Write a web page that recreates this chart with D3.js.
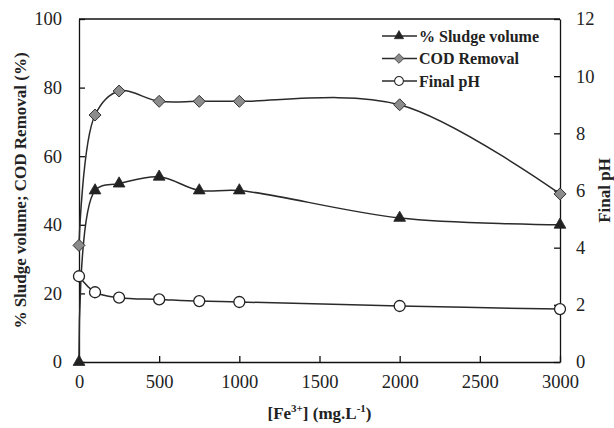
<!doctype html>
<html lang="en">
<head>
    <meta charset="utf-8">
    <title>Fe3+ dose</title>
    <script src="https://d3js.org/d3.v7.min.js"></script>
    <style>
        body { margin: 0; padding: 0; background: #fff; }
        svg text { font-family: 'Liberation Serif', 'Times New Roman', serif; }
        .tick text { font-size: 18.5px; fill: #222; }
    </style>
</head>
<body>
    <div class="chart"></div>
    <script>
        // data
        const doses = [0, 100, 250, 500, 750, 1000, 2000, 3000];
        const sludge = [0, 50, 52, 54, 50, 50, 42, 40];
        const cod = [34, 72, 79, 76, 76, 76, 75, 49];
        const ph = [3.0, 2.44, 2.25, 2.19, 2.13, 2.1, 1.96, 1.85];
        const xTicks = [0, 500, 1000, 1500, 2000, 2500, 3000];
        const leftTicks = [0, 20, 40, 60, 80, 100];
        const rightTicks = [0, 2, 4, 6, 8, 10, 12];
        const seriesNames = ["% Sludge volume", "COD Removal", "Final pH"];

        const width = 614, height = 428;
        const m = {left: 79, right: 54, top: 19, bottom: 66};
        const serif = "'Liberation Serif', 'Times New Roman', serif";

        const svg = d3.select(".chart").append("svg")
            .attr("width", width)
            .attr("height", height);

        const x = d3.scaleLinear().domain([0, 3000]).range([m.left, width - m.right]);
        const yL = d3.scaleLinear().domain([0, 100]).range([height - m.bottom, m.top]);
        const yR = d3.scaleLinear().domain([0, 12]).range([height - m.bottom, m.top]);

        // axes, ticks pointing inward
        const gx = svg.append("g")
            .attr("transform", `translate(0,${height - m.bottom})`)
            .call(d3.axisBottom(x).tickValues(xTicks).tickFormat(d3.format("d"))
                .tickSizeInner(-6).tickSizeOuter(0).tickPadding(13));
        const gl = svg.append("g")
            .attr("transform", `translate(${m.left},0)`)
            .call(d3.axisLeft(yL).tickValues(leftTicks).tickSizeInner(-6).tickSizeOuter(0).tickPadding(17));
        const gr = svg.append("g")
            .attr("transform", `translate(${width - m.right},0)`)
            .call(d3.axisRight(yR).tickValues(rightTicks).tickSizeInner(-6).tickSizeOuter(0).tickPadding(16));

        [gx, gl, gr].forEach(g => {
            g.attr("font-family", serif).attr("font-size", null);
            g.selectAll("text").style("font-family", serif);
            g.selectAll("path, line").attr("stroke", "#111").attr("stroke-width", 1.3);
        });

        // top border of the frame
        svg.append("line")
            .attr("x1", m.left).attr("x2", width - m.right)
            .attr("y1", m.top).attr("y2", m.top)
            .attr("stroke", "#111").attr("stroke-width", 1.3);

        // axis titles
        svg.append("text")
            .attr("x", (m.left + width - m.right) / 2)
            .attr("y", 419)
            .attr("text-anchor", "middle")
            .style("font-family", serif)
            .attr("font-size", 17).attr("font-weight", "bold").attr("fill", "#222")
            .html('[Fe<tspan dy="-7" font-size="11">3+</tspan><tspan dy="7">] (mg.L</tspan><tspan dy="-7" font-size="11">-1</tspan><tspan dy="7">)</tspan>');

        svg.append("text")
            .attr("transform", `translate(26,${(m.top + height - m.bottom) / 2}) rotate(-90)`)
            .attr("text-anchor", "middle")
            .style("font-family", serif)
            .attr("font-size", 17).attr("font-weight", "bold").attr("fill", "#222")
            .text("% Sludge volume; COD Removal (%)");

        svg.append("text")
            .attr("transform", `translate(610,${(m.top + height - m.bottom) / 2}) rotate(-90)`)
            .attr("text-anchor", "middle")
            .style("font-family", serif)
            .attr("font-size", 17).attr("font-weight", "bold").attr("fill", "#222")
            .text("Final pH");

        const curve = d3.curveCatmullRom.alpha(0.5);
        const series = [
            {name: seriesNames[0], vals: sludge, y: yL, shape: "tri"},
            {name: seriesNames[1], vals: cod, y: yL, shape: "dia"},
            {name: seriesNames[2], vals: ph, y: yR, shape: "circ"}
        ];

        function marker(g, shape) {
            if (shape === "tri") {
                g.append("path").attr("d", d3.symbol(d3.symbolTriangle, 60)())
                    .attr("fill", "#222").attr("stroke", "#222").attr("stroke-width", 0.8);
            } else if (shape === "dia") {
                g.append("path").attr("d", "M0,-6L6,0L0,6L-6,0Z")
                    .attr("fill", "#8c8c8c").attr("stroke", "#333").attr("stroke-width", 1);
            } else {
                g.append("circle").attr("r", 5.5)
                    .attr("fill", "#fff").attr("stroke", "#222").attr("stroke-width", 1.3);
            }
        }

        series.forEach(s => {
            const pts = doses.map((d, i) => [x(d), s.y(s.vals[i])]);
            svg.append("path")
                .attr("d", d3.line().curve(curve)(pts))
                .attr("fill", "none")
                .attr("stroke", "#2a2a2a")
                .attr("stroke-width", 1.5);
            pts.forEach(p => {
                const g = svg.append("g").attr("transform", `translate(${p[0]},${p[1]})`);
                marker(g, s.shape);
            });
        });

        // legend
        const legend = svg.append("g").attr("transform", "translate(382,36)");
        series.forEach((s, i) => {
            const row = legend.append("g").attr("transform", `translate(0,${i * 22.5})`);
            row.append("line").attr("x1", 0).attr("x2", 35)
                .attr("stroke", "#2a2a2a").attr("stroke-width", 1.5);
            marker(row.append("g").attr("transform", "translate(17,0) scale(0.8)"), s.shape);
            row.append("text")
                .attr("x", 37).attr("y", 5.5)
                .style("font-family", serif)
                .attr("font-size", 16).attr("font-weight", "bold").attr("fill", "#222")
                .text(s.name);
        });
    </script>
</body>
</html>
